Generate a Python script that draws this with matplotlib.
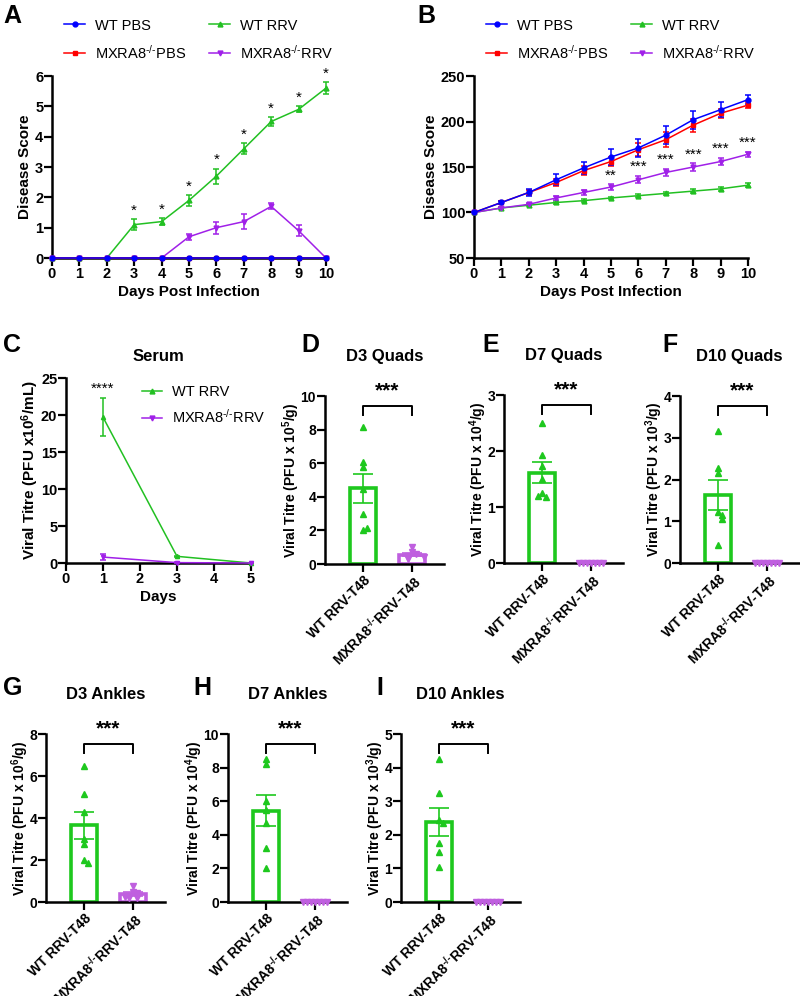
import matplotlib
matplotlib.use("Agg")
import matplotlib.pyplot as plt
import numpy as np

plt.rcParams['font.family'] = ['Liberation Sans', 'DejaVu Sans']
plt.rcParams['mathtext.fontset'] = 'custom'
plt.rcParams['mathtext.rm'] = 'Liberation Sans'
plt.rcParams['mathtext.bf'] = 'Liberation Sans:bold'
plt.rcParams['mathtext.it'] = 'Liberation Sans:italic'

# ---- data ----
days = list(range(11))
group_names = ["WT PBS", "MXRA8$^{\u2010/\u2010}$PBS", "WT RRV",
               "MXRA8$^{\u2010/\u2010}$RRV"]

a_wt_pbs = [0] * 11
a_mx_pbs = [0] * 11
a_wt_rrv = [0, 0, 0, 1.1, 1.2, 1.9, 2.7, 3.6, 4.5, 4.9, 5.6]
a_wt_rrv_err = [0, 0, 0, 0.18, 0.12, 0.18, 0.25, 0.18, 0.14, 0.1, 0.2]
a_mx_rrv = [0, 0, 0, 0, 0, 0.7, 1.0, 1.2, 1.7, 0.9, 0]
a_mx_rrv_err = [0, 0, 0, 0, 0, 0.1, 0.2, 0.25, 0.1, 0.18, 0]
a_stars = ["", "", "", "*", "*", "*", "*", "*", "*", "*", "*"]

b_wt_pbs = [100, 111, 122, 136, 149, 161, 171, 185, 202, 213, 224]
b_wt_pbs_err = [0, 2, 4, 6, 7, 9, 10, 10, 10, 8, 5]
b_mx_pbs = [100, 111, 122, 133, 146, 156, 169, 180, 196, 209, 218]
b_mx_pbs_err = [0, 2, 3, 4, 5, 5, 7, 8, 7, 5, 3]
b_wt_rrv = [100, 105, 108, 111, 113, 116, 118.5, 121, 123.5, 126, 130]
b_wt_rrv_err = [0, 1, 1, 1.5, 1.5, 1.5, 1.5, 2, 2, 2, 2]
b_mx_rrv = [100, 105, 109, 116, 122, 128, 136, 144, 150, 156, 164]
b_mx_rrv_err = [0, 1, 1, 2, 3, 3, 4, 4, 4, 4, 3]
b_stars = ["", "", "", "", "", "**", "***", "***", "***", "***", "***"]

c_days = [1, 3, 5]
c_wt_rrv = [19.7, 0.9, 0.0]
c_wt_rrv_err = [2.6, 0.05, 0]
c_mx_rrv = [0.8, 0.05, 0.0]
c_mx_rrv_err = [0.4, 0.02, 0]

bar_labels = ["WT RRV-T48", "MXRA8$^{\\mathbf{\u2010/\u2010}}$RRV-T48"]
d3_quads_wt = [8.15, 6.1, 5.75, 4.45, 2.95, 2.0, 2.15]
d3_quads_mx = [1.0, 0.7, 0.6, 0.5, 0.35, 0.3, 0.4]
d7_quads_wt = [2.5, 1.93, 1.73, 1.5, 1.25, 1.18, 1.2]
d7_quads_mx = [0, 0, 0, 0, 0, 0, 0]
d10_quads_wt = [3.15, 2.27, 2.15, 1.23, 1.15, 1.05, 0.42]
d10_quads_mx = [0, 0, 0, 0, 0, 0, 0]
d3_ankles_wt = [6.5, 5.15, 4.3, 3.0, 2.75, 2.0, 1.85]
d3_ankles_mx = [0.75, 0.5, 0.45, 0.3, 0.2, 0.2, 0.25]
d7_ankles_wt = [8.5, 8.2, 6.0, 5.5, 4.7, 3.2, 2.0]
d7_ankles_mx = [0, 0, 0, 0, 0, 0, 0]
d10_ankles_wt = [4.25, 3.25, 2.45, 2.35, 1.75, 1.5, 1.05]
d10_ankles_mx = [0, 0, 0, 0, 0, 0, 0]

BLUE = "#0000ff"
RED = "#ff0000"
GREEN = "#22c022"
PURPLE = "#a020e8"
BAR_GREEN = "#1ec81e"
BAR_PURPLE = "#bf5fdf"

fig = plt.figure(figsize=(8, 9.96), dpi=100)


def px_axes(left, top, right, bottom):
    return fig.add_axes([left / 800, 1 - bottom / 996,
                         (right - left) / 800, (bottom - top) / 996])


def style(ax, tick_size=10.5):
    for s in ["top", "right"]:
        ax.spines[s].set_visible(False)
    for s in ["left", "bottom"]:
        ax.spines[s].set_linewidth(1.8)
    ax.tick_params(width=1.6, length=5.5, pad=0.8, labelsize=tick_size,
                   direction="out")
    for lab in ax.get_xticklabels() + ax.get_yticklabels():
        lab.set_fontweight("bold")


def panel_letter(x, y, s):
    fig.text(x / 800, 1 - y / 996, s, fontsize=18, fontweight="bold",
             ha="left", va="center")


def line_series(ax, x, y, err, color, marker, ms=3.5):
    ax.errorbar(x, y, yerr=err, color=color, marker=marker, markersize=ms,
                lw=1.1, elinewidth=1.1, capsize=2.5, capthick=1.1,
                clip_on=False, zorder=3)


handles = [
    plt.Line2D([], [], color=BLUE, marker="o", ms=3.5, lw=1.1),
    plt.Line2D([], [], color=RED, marker="s", ms=3, lw=1.1),
    plt.Line2D([], [], color=GREEN, marker="^", ms=3.5, lw=1.1),
    plt.Line2D([], [], color=PURPLE, marker="v", ms=3.5, lw=1.1),
]


def top_legend(ax):
    ax.legend(handles, group_names, ncol=2, frameon=False, fontsize=10.5,
              loc="lower left", bbox_to_anchor=(0.045, 1.08),
              handlelength=1.4, handletextpad=0.7, columnspacing=1.6,
              labelspacing=0.75, borderaxespad=0, borderpad=0)


# ---- panel A ----
axA = px_axes(52, 76, 326, 258)
line_series(axA, days, a_wt_rrv, a_wt_rrv_err, GREEN, "^")
line_series(axA, days, a_mx_rrv, a_mx_rrv_err, PURPLE, "v")
line_series(axA, days, a_mx_pbs, None, RED, "s", 3)
line_series(axA, days, a_wt_pbs, None, BLUE, "o")
for d, v, e, s in zip(days, a_wt_rrv, a_wt_rrv_err, a_stars):
    if s:
        axA.text(d, v + e + 0.05, s, ha="center", va="bottom", fontsize=11)
axA.set_xlim(0, 10)
axA.set_ylim(0, 6)
axA.set_xticks(days)
axA.set_yticks(range(7))
axA.set_xlabel("Days Post Infection", fontsize=11, fontweight="bold",
               labelpad=3)
axA.set_ylabel("Disease Score", fontsize=11, fontweight="bold", labelpad=2)
style(axA)
top_legend(axA)

# ---- panel B ----
axB = px_axes(474, 76, 748, 258)
line_series(axB, days, b_wt_rrv, b_wt_rrv_err, GREEN, "^")
line_series(axB, days, b_mx_rrv, b_mx_rrv_err, PURPLE, "v")
line_series(axB, days, b_mx_pbs, b_mx_pbs_err, RED, "s", 3)
line_series(axB, days, b_wt_pbs, b_wt_pbs_err, BLUE, "o")
for d, v, e, s in zip(days, b_mx_rrv, b_mx_rrv_err, b_stars):
    if s:
        axB.text(d, v + e + 2, s, ha="center", va="bottom", fontsize=11)
axB.set_xlim(0, 10)
axB.set_ylim(50, 250)
axB.set_xticks(days)
axB.set_yticks(range(50, 251, 50))
axB.set_xlabel("Days Post Infection", fontsize=11, fontweight="bold",
               labelpad=3)
axB.set_ylabel("Disease Score", fontsize=11, fontweight="bold", labelpad=2)
style(axB)
top_legend(axB)

# ---- panel C ----
axC = px_axes(66, 378, 251, 563)
line_series(axC, c_days, c_wt_rrv, c_wt_rrv_err, GREEN, "^", 3)
line_series(axC, c_days, c_mx_rrv, c_mx_rrv_err, PURPLE, "v", 3)
axC.text(c_days[0], c_wt_rrv[0] + c_wt_rrv_err[0] + 0.3, "****",
         ha="center", va="bottom", fontsize=11)
axC.set_xlim(0, 5)
axC.set_ylim(0, 25)
axC.set_xticks(range(6))
axC.set_yticks(range(0, 26, 5))
axC.set_xlabel("Days", fontsize=11, fontweight="bold", labelpad=3)
axC.set_ylabel("Viral Titre (PFU x10$^{\\mathbf{6}}$/mL)", fontsize=11,
               fontweight="bold", labelpad=0)
axC.set_title("Serum", fontsize=12, fontweight="bold", pad=12)
style(axC)
axC.legend(handles[2:], group_names[2:], frameon=False, fontsize=10.5,
           loc="upper left", bbox_to_anchor=(0.41, 0.96), handlelength=1.4,
           handletextpad=0.7, labelspacing=0.6, borderaxespad=0,
           borderpad=0)


# ---- bar panels ----
def offsets(vals, ymax, step=0.08):
    placed = []
    out = []
    for v in vals:
        k = sum(1 for p in placed if abs(p - v) < 0.03 * ymax)
        off = 0 if k == 0 else ((k + 1) // 2) * step * (1 if k % 2 else -1)
        placed.append(v)
        out.append(off)
    return np.array(out)


def bar_panel(cx0, top, bottom, wt, mx, ymax, yticks, exponent, title):
    unit = 49
    ax = px_axes(cx0 - 0.78 * unit, top, cx0 + 1.66 * unit, bottom)
    for i, (vals, col, mk) in enumerate([(wt, BAR_GREEN, "^"),
                                         (mx, BAR_PURPLE, "v")]):
        m = np.mean(vals)
        sem = np.std(vals, ddof=1) / np.sqrt(len(vals))
        ax.bar(i, m, width=0.55, facecolor="white", edgecolor=col,
               linewidth=2.6, zorder=2)
        ax.errorbar(i, m, yerr=sem, color=col, capsize=7, elinewidth=1.2,
                    capthick=1.2, zorder=3)
        ax.plot(i + offsets(vals, ymax), vals, linestyle="none", marker=mk,
                color=col, ms=4.5, zorder=4, clip_on=False)
    y1, y0 = 0.94 * ymax, 0.885 * ymax
    ax.plot([0, 0, 1, 1], [y0, y1, y1, y0], color="black", lw=1.4,
            clip_on=False)
    ax.text(0.5, 1.03 * ymax, "***", ha="center", va="center", fontsize=15,
            fontweight="bold", clip_on=False)
    ax.set_xlim(-0.78, 1.66)
    ax.set_ylim(0, ymax)
    ax.set_yticks(yticks)
    ax.set_xticks([0, 1])
    ax.set_xticklabels(bar_labels, rotation=45, ha="right",
                       rotation_mode="anchor", fontsize=9.5)
    ax.set_ylabel("Viral Titre (PFU x 10$^{\\mathbf{%d}}$/g)" % exponent,
                  fontsize=10, fontweight="bold", labelpad=-1)
    ax.set_title(title, fontsize=12, fontweight="bold", pad=25)
    style(ax, 10)
    return ax


bar_panel(363, 396, 564, d3_quads_wt, d3_quads_mx, 10, range(0, 11, 2), 5,
          "D3 Quads")
bar_panel(542, 395, 563, d7_quads_wt, d7_quads_mx, 3, range(0, 4), 4,
          "D7 Quads")
bar_panel(718, 396, 563, d10_quads_wt, d10_quads_mx, 4, range(0, 5), 3,
          "D10 Quads")
bar_panel(84, 734, 902, d3_ankles_wt, d3_ankles_mx, 8, range(0, 9, 2), 6,
          "D3 Ankles")
bar_panel(266, 734, 902, d7_ankles_wt, d7_ankles_mx, 10, range(0, 11, 2), 4,
          "D7 Ankles")
bar_panel(439, 734, 902, d10_ankles_wt, d10_ankles_mx, 5, range(0, 6), 3,
          "D10 Ankles")

panel_letter(3, 16, "A")
panel_letter(417, 16, "B")
panel_letter(3, 345, "C")
panel_letter(301, 345, "D")
panel_letter(482, 345, "E")
panel_letter(662, 345, "F")
panel_letter(3, 688, "G")
panel_letter(193, 688, "H")
panel_letter(376, 688, "I")

fig.savefig("out.png", dpi=100)
